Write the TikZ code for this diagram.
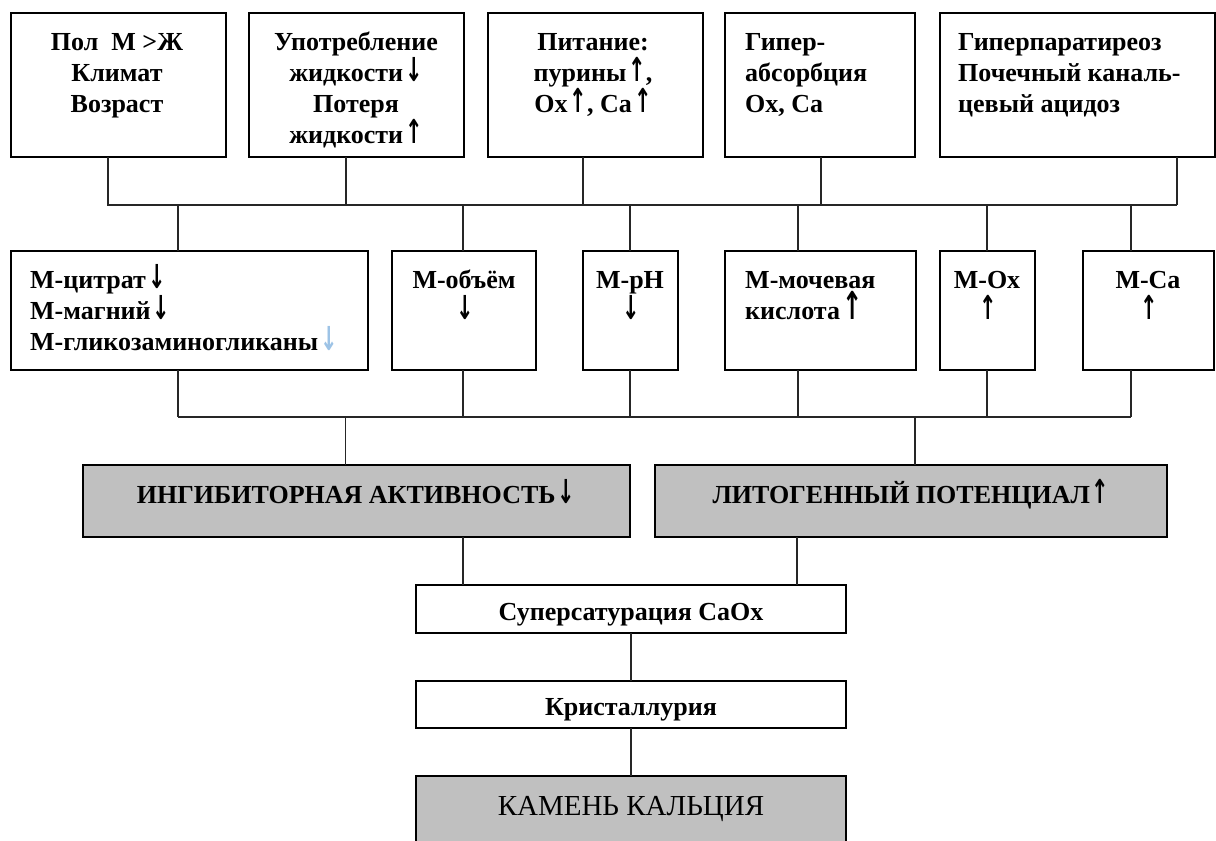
\documentclass[tikz,border=0pt]{standalone}
\usepackage{fontspec}
\usepackage{graphicx}
\setmainfont{Liberation Serif}
\newfontfamily\arrowfont{DejaVu Sans}
\usetikzlibrary{calc}
% stacked lines whose baseline is the baseline of the first line
\newcommand{\txtlines}[2]{\begin{tabular}[t]{@{}#1@{}}#2\end{tabular}}
% heavy up and down arrows, stretched to about capital height
\newcommand{\arrowglyph}[3]{\hspace{2pt}\smash{\scalebox{#1}[#2]{\arrowfont\bfseries\fontsize{22}{31}\selectfont #3}}}
\newcommand{\dn}{\arrowglyph{0.95}{1.5}{↓}}
\newcommand{\up}{\arrowglyph{0.95}{1.5}{↑}}
\newcommand{\bigup}{\arrowglyph{1.1}{1.75}{↑}}
\definecolor{boxgray}{HTML}{C0C0C0}
\definecolor{paleblue}{HTML}{9DC3E6}
\begin{document}
\begin{tikzpicture}[x=1pt,y=-1pt,
  box/.style={draw=black, line width=1.6pt, fill=white, inner sep=0pt, outer sep=0pt, anchor=north west},
  shaded/.style={box, fill=boxgray},
  txt/.style={inner sep=0pt, anchor=base, font=\fontsize{26}{31}\selectfont\bfseries},
  txtl/.style={txt, anchor=base west},
  wire/.style={draw=black!85, line width=1.4pt},
]
\useasboundingbox (0,0) rectangle (1216,841);

% ---- causes ----
\node[box, minimum width=215pt, minimum height=144pt] (t1) at (11,13) {};
\node[box, minimum width=215pt, minimum height=144pt] (t2) at (249,13) {};
\node[box, minimum width=215pt, minimum height=144pt] (t3) at (488,13) {};
\node[box, minimum width=190pt, minimum height=144pt] (t4) at (725,13) {};
\node[box, minimum width=275pt, minimum height=144pt] (t5) at (940,13) {};

\node[txt] (t1x) at (117,50) {\txtlines{c}{Пол~~М >Ж\\Климат\\Возраст}};
\node[txt] (t2x) at (356,50) {\txtlines{c}{Употребление\\жидкости\dn\\Потеря\\жидкости\up}};
\node[txt] (t3x) at (593,50) {\txtlines{c}{Питание:\\пурины\up,\\Ox\up, Ca\up}};
\node[txtl] (t4x) at (745,50) {\txtlines{l}{Гипер-\\абсорбция\\Ox, Ca}};
\node[txtl] (t5x) at (958,50) {\txtlines{l}{Гиперпаратиреоз\\Почечный каналь-\\цевый ацидоз}};

% ---- urine factors ----
\node[box, minimum width=357pt, minimum height=119pt] (m1) at (11,251) {};
\node[box, minimum width=144pt, minimum height=119pt] (m2) at (392,251) {};
\node[box, minimum width=95pt,  minimum height=119pt] (m3) at (583,251) {};
\node[box, minimum width=191pt, minimum height=119pt] (m4) at (725,251) {};
\node[box, minimum width=95pt,  minimum height=119pt] (m5) at (940,251) {};
\node[box, minimum width=131pt, minimum height=119pt] (m6) at (1083,251) {};

\node[txtl] (m1x) at (30,288) {\txtlines{l}{М-цитрат\dn\\М-магний\dn\\М-гликозаминогликаны{\color{paleblue}\dn}}};
\node[txt] (m2x) at (464,288) {\txtlines{c}{М-объём\\\dn}};
\node[txt] (m3x) at (630,288) {\txtlines{c}{М-pH\\\dn}};
\node[txtl] (m4x) at (745,288) {\txtlines{l}{М-мочевая\\кислота\bigup}};
\node[txt] (m5x) at (987,288) {\txtlines{c}{М-Ox\\\up}};
\node[txt] (m6x) at (1148,288) {\txtlines{c}{М-Ca\\\up}};

% ---- summary ----
\node[shaded, minimum width=547pt, minimum height=72pt] (gA) at (83,465) {};
\node[shaded, minimum width=512pt, minimum height=72pt] (gB) at (655,465) {};
\node[txt] (gAx) at (356,503) {ИНГИБИТОРНАЯ АКТИВНОСТЬ\dn};
\node[txt] (gBx) at (911,503) {ЛИТОГЕННЫЙ ПОТЕНЦИАЛ\up};

% ---- outcome chain ----
\node[box, minimum width=430pt, minimum height=48pt] (s) at (416,585) {};
\node[box, minimum width=430pt, minimum height=47pt] (k) at (416,681) {};
\node[shaded, minimum width=430pt, minimum height=90pt] (c) at (416,776) {};
\node[txt] (sx) at (631,620) {Суперсатурация CaOx};
\node[txt] (kx) at (631,715) {Кристаллурия};
\node[txt, font=\fontsize{29}{34}\selectfont] (cx) at (631,815) {КАМЕНЬ КАЛЬЦИЯ};

% ---- connectors ----
\coordinate (ua) at (107,205);
\coordinate (ub) at (1177,205);
\draw[wire] (ua) -- (ub);
\foreach \n/\dx in {t1/-10.5, t2/-10.5, t3/-12.5, t4/1, t5/99.5}
  \draw[wire] ([xshift=\dx pt]\n.south) -- ++(0,48);
\foreach \n/\dx in {m1/-11.5, m2/-1, m3/-0.5, m4/-22.5, m5/-0.5, m6/-17.5}
  \draw[wire] ([xshift=\dx pt]\n.north) -- ++(0,-46);

\coordinate (la) at (178,417);
\coordinate (lb) at (1130.5,417);
\draw[wire] (la) -- (lb);
\foreach \n/\dx in {m1/-11.5, m2/-1, m3/-0.5, m4/-22.5, m5/-0.5, m6/-17.5}
  \draw[wire] ([xshift=\dx pt]\n.south) -- ++(0,47);
\draw[wire] ([xshift=-11pt]gA.north) -- ++(0,-48);
\draw[wire] ([xshift=4pt]gB.north) -- ++(0,-48);

\draw[wire] ([xshift=106.5pt]gA.south) -- ([xshift=-168pt]s.north);
\draw[wire] ([xshift=-114pt]gB.south) -- ([xshift=166pt]s.north);
\draw[wire] (s.south) -- (k.north);
\draw[wire] (k.south) -- (c.north);
\end{tikzpicture}
\end{document}
